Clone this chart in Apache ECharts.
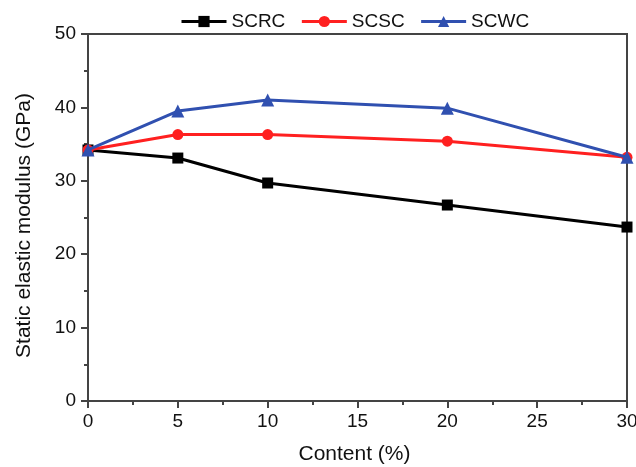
<!DOCTYPE html>
<html>
<head>
<meta charset="utf-8">
<script src="https://cdn.jsdelivr.net/npm/echarts@6/dist/echarts.min.js"></script>
<style>
  html, body { margin: 0; padding: 0; background: #fff; }
  #chart { width: 636px; height: 467px; }
</style>
</head>
<body>
<div id="chart"></div>
<script>
// Fibre content (%) on the x axis
const contents = [0, 5, 10, 20, 30];
// Static elastic modulus (GPa) per mix
const scrc = [34.2, 33.1, 29.7, 26.7, 23.7];
const scsc = [34.2, 36.3, 36.3, 35.4, 33.2];
const scwc = [34.2, 39.5, 41.0, 39.9, 33.2];

const seriesNames = ['SCRC', 'SCSC', 'SCWC'];
const seriesColors = ['#000000', '#ff2020', '#3050b0'];
const seriesSymbols = ['rect', 'circle', 'triangle'];
const seriesValues = [scrc, scsc, scwc];

const font = 'Liberation Sans, Arial, sans-serif';
const axisColor = '#444';
const textColor = '#111';

const chart = echarts.init(document.getElementById('chart'));
chart.setOption({
  animation: false,
  legend: {
    top: 7,
    left: 175,
    itemWidth: 45,
    itemHeight: 14,
    itemGap: 15,
    lineStyle: { width: 3 },
    textStyle: { fontFamily: font, fontSize: 19, color: textColor },
    data: seriesNames
  },
  grid: {
    left: 88, right: 9, top: 34, bottom: 66,
    containLabel: false,
    outerBoundsMode: 'none',
    show: true, borderColor: axisColor, borderWidth: 2, backgroundColor: 'transparent'
  },
  xAxis: {
    type: 'value', min: 0, max: 30, interval: 5,
    name: 'Content (%)', nameLocation: 'middle', nameGap: 43,
    nameTextStyle: { fontFamily: font, fontSize: 21, color: textColor, padding: [0, 6, 0, 0] },
    axisLine: { lineStyle: { color: axisColor, width: 2 } },
    axisTick: { inside: false, length: 7, lineStyle: { color: axisColor, width: 2 } },
    minorTick: { show: true, splitNumber: 2, length: 4, lineStyle: { color: axisColor, width: 2 } },
    axisLabel: { fontFamily: font, fontSize: 19, color: textColor, margin: 11 },
    splitLine: { show: false }
  },
  yAxis: {
    type: 'value', min: 0, max: 50, interval: 10,
    name: 'Static elastic modulus (GPa)', nameLocation: 'middle', nameGap: 53,
    nameTextStyle: { fontFamily: font, fontSize: 21, color: textColor, padding: [0, 16, 0, 0] },
    axisLine: { show: true, lineStyle: { color: axisColor, width: 2 } },
    axisTick: { show: true, inside: false, length: 7, lineStyle: { color: axisColor, width: 2 } },
    minorTick: { show: true, splitNumber: 2, length: 4, lineStyle: { color: axisColor, width: 2 } },
    axisLabel: { fontFamily: font, fontSize: 19, color: textColor, margin: 12 },
    splitLine: { show: false }
  },
  series: seriesNames.map((name, i) => ({
    name: name,
    type: 'line',
    data: contents.map((c, j) => [c, seriesValues[i][j]]),
    symbol: seriesSymbols[i],
    symbolSize: i === 2 ? 13 : 11,
    showAllSymbol: true,
    lineStyle: { color: seriesColors[i], width: 3 },
    itemStyle: { color: seriesColors[i] },
    z: 2 + i
  }))
});
</script>
</body>
</html>
